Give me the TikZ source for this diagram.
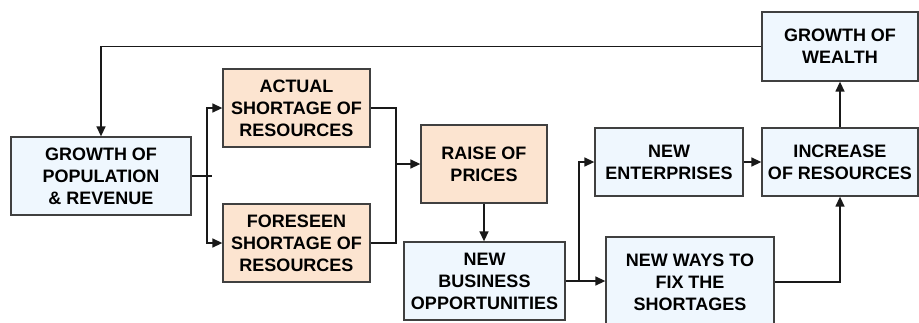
\documentclass[tikz,border=0pt]{standalone}
\usepackage{fontspec}
\setmainfont{Liberation Sans}
\usetikzlibrary{arrows.meta}
\definecolor{bluefill}{RGB}{239,247,254}
\definecolor{orangefill}{RGB}{252,228,208}
\definecolor{edge}{RGB}{64,64,64}
\begin{document}
\begin{tikzpicture}[x=1pt,y=-1pt,
  box/.style={draw=edge,line width=1.3pt,inner sep=0pt,align=center,
    font=\fontsize{18}{22}\selectfont\bfseries,text=black},
  bbox/.style={box,fill=bluefill},
  obox/.style={box,fill=orangefill},
  conn/.style={draw=black!90,line width=1.4pt},
  arr/.style={conn,-{Triangle[length=10pt,width=9pt]}}]
\useasboundingbox (0,0) rectangle (919,322);
\node[bbox,minimum width=180pt,minimum height=78pt] (pop) at (101,176) {GROWTH OF\\POPULATION\\\& REVENUE};
\node[obox,minimum width=147pt,minimum height=78pt] (actual) at (296.5,108) {ACTUAL\\SHORTAGE OF\\RESOURCES};
\node[obox,minimum width=147pt,minimum height=78pt] (fore) at (296.5,243) {FORESEEN\\SHORTAGE OF\\RESOURCES};
\node[obox,minimum width=126pt,minimum height=78pt] (raise) at (484,164) {RAISE OF\\PRICES};
\node[bbox,minimum width=161pt,minimum height=78pt] (nbo) at (484.5,281) {NEW\\BUSINESS\\OPPORTUNITIES};
\node[bbox,minimum width=148pt,minimum height=68pt] (ent) at (669,162) {NEW\\ENTERPRISES};
\node[bbox,minimum width=156pt,minimum height=68pt] (inc) at (840,162) {INCREASE\\OF RESOURCES};
\node[bbox,minimum width=156pt,minimum height=69pt] (wealth) at (840,46.5) {GROWTH OF\\WEALTH};
\node[bbox,minimum width=168pt,minimum height=90pt] (ways) at (690,282) {NEW WAYS TO\\FIX THE\\SHORTAGES};
\coordinate (j1) at (207,176);
\coordinate (j1e) at (212,176);
\coordinate (j2) at (396,164);
\coordinate (j3) at (579,281);
\draw[conn] (pop.east) -- (j1e);
\draw[arr] (j1) |- (actual.west);
\draw[arr] (j1) |- (fore.west);
\draw[conn] (actual.east) -| (j2);
\draw[conn] (fore.east) -| (j2);
\draw[arr] (j2) -- (raise.west);
\draw[arr] (raise.south) -- (raise.south |- nbo.north);
\draw[conn] (nbo.east |- j3) -- (j3);
\draw[arr] (j3) -- (ways.west |- j3);
\draw[arr] (j3) |- (ent.west);
\draw[arr] (ent.east) -- (inc.west);
\draw[arr] (ways.east) -| (inc.south);
\draw[arr] (inc.north) -- (wealth.south);
\draw[arr] (wealth.west) -| (pop.north);
\end{tikzpicture}
\end{document}
